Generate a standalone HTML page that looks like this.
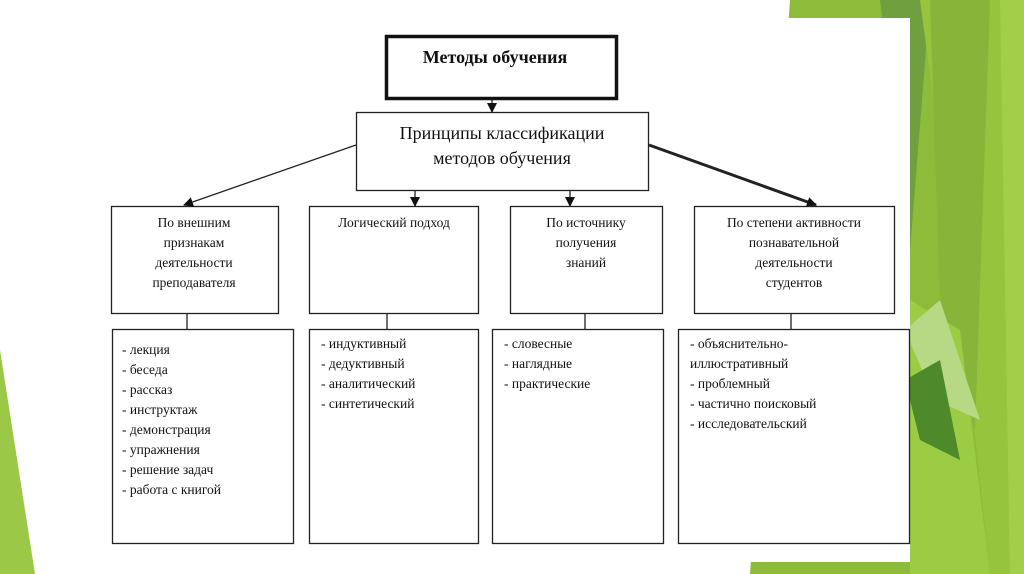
<!DOCTYPE html>
<html><head><meta charset="utf-8"><style>
html,body{margin:0;padding:0;background:#fff}
svg{display:block}
text{font-family:"Liberation Serif","DejaVu Serif",serif;fill:#111}
</style></head><body>
<svg width="1024" height="574" viewBox="0 0 1024 574" xmlns="http://www.w3.org/2000/svg">
<polygon points="790,0 1024,0 1024,574 750,574" fill="#8dbb3a"/>
<polygon points="790,0 930,0 910,250 880,0" fill="#6f9f3e"/>
<polygon points="920,0 1024,0 1024,574 990,574 960,300" fill="#96c43c"/>
<polygon points="930,0 990,0 975,430 940,300" fill="#86b53a"/>
<polygon points="910,300 960,330 990,574 910,574" fill="#9ccb44"/>
<polygon points="905,330 940,300 980,420 935,400" fill="#b7d985"/>
<polygon points="905,380 940,360 960,460 920,440" fill="#4e8a2a"/>
<polygon points="1000,0 1024,0 1024,574 1010,574" fill="#a3ce4a"/>
<polygon points="0,350 35,574 0,574" fill="#9cc848"/>
<rect x="60" y="18" width="850" height="544" fill="#fff"/>
<defs><marker id="a" markerWidth="10" markerHeight="10" refX="9" refY="5" orient="auto" markerUnits="userSpaceOnUse"><path d="M0,0 L10,5 L0,10 z" fill="#111"/></marker></defs>
<g fill="none" stroke="#222" stroke-width="1.3">
<rect x="386.5" y="36.5" width="230" height="62" stroke-width="3.5" stroke="#111"/>
<rect x="356.5" y="112.5" width="292" height="78"/>
<rect x="111.5" y="206.5" width="167" height="107"/>
<rect x="309.5" y="206.5" width="169" height="107"/>
<rect x="510.5" y="206.5" width="152" height="107"/>
<rect x="694.5" y="206.5" width="200" height="107"/>
<rect x="112.5" y="329.5" width="181" height="214"/>
<rect x="309.5" y="329.5" width="169" height="214"/>
<rect x="492.5" y="329.5" width="171" height="214"/>
<rect x="678.5" y="329.5" width="231" height="214"/>
<line x1="187" y1="313" x2="187" y2="329"/>
<line x1="387" y1="313" x2="387" y2="329"/>
<line x1="585" y1="313" x2="585" y2="329"/>
<line x1="791" y1="313" x2="791" y2="329"/>
<line x1="492" y1="99" x2="492" y2="112" marker-end="url(#a)"/>
<line x1="415" y1="191" x2="415" y2="206" marker-end="url(#a)"/>
<line x1="570" y1="191" x2="570" y2="206" marker-end="url(#a)"/>
<line x1="356" y1="145" x2="184" y2="205" marker-end="url(#a)"/>
<line x1="649" y1="145" x2="816" y2="205" stroke-width="3" marker-end="url(#a)"/>
</g>
<text x="495" y="63" font-size="18" font-weight="bold" text-anchor="middle">Методы обучения</text>
<g font-size="18" text-anchor="middle">
<text x="502" y="139">Принципы классификации</text>
<text x="502" y="164">методов обучения</text>
</g>
<g font-size="13.5" text-anchor="middle">
<text x="194" y="227">По внешним</text>
<text x="194" y="247">признакам</text>
<text x="194" y="267">деятельности</text>
<text x="194" y="287">преподавателя</text>
<text x="394" y="227">Логический подход</text>
<text x="586" y="227">По источнику</text>
<text x="586" y="247">получения</text>
<text x="586" y="267">знаний</text>
<text x="794" y="227">По степени активности</text>
<text x="794" y="247">познавательной</text>
<text x="794" y="267">деятельности</text>
<text x="794" y="287">студентов</text>
</g>
<g font-size="13.5">
<text x="122" y="354">- лекция</text>
<text x="122" y="374">- беседа</text>
<text x="122" y="394">- рассказ</text>
<text x="122" y="414">- инструктаж</text>
<text x="122" y="434">- демонстрация</text>
<text x="122" y="454">- упражнения</text>
<text x="122" y="474">- решение задач</text>
<text x="122" y="494">- работа с книгой</text>
<text x="321" y="348">- индуктивный</text>
<text x="321" y="368">- дедуктивный</text>
<text x="321" y="388">- аналитический</text>
<text x="321" y="408">- синтетический</text>
<text x="504" y="348">- словесные</text>
<text x="504" y="368">- наглядные</text>
<text x="504" y="388">- практические</text>
<text x="690" y="348">- объяснительно-</text>
<text x="690" y="368">  иллюстративный</text>
<text x="690" y="388">- проблемный</text>
<text x="690" y="408">- частично поисковый</text>
<text x="690" y="428">- исследовательский</text>
</g>
</svg>
</body></html>
